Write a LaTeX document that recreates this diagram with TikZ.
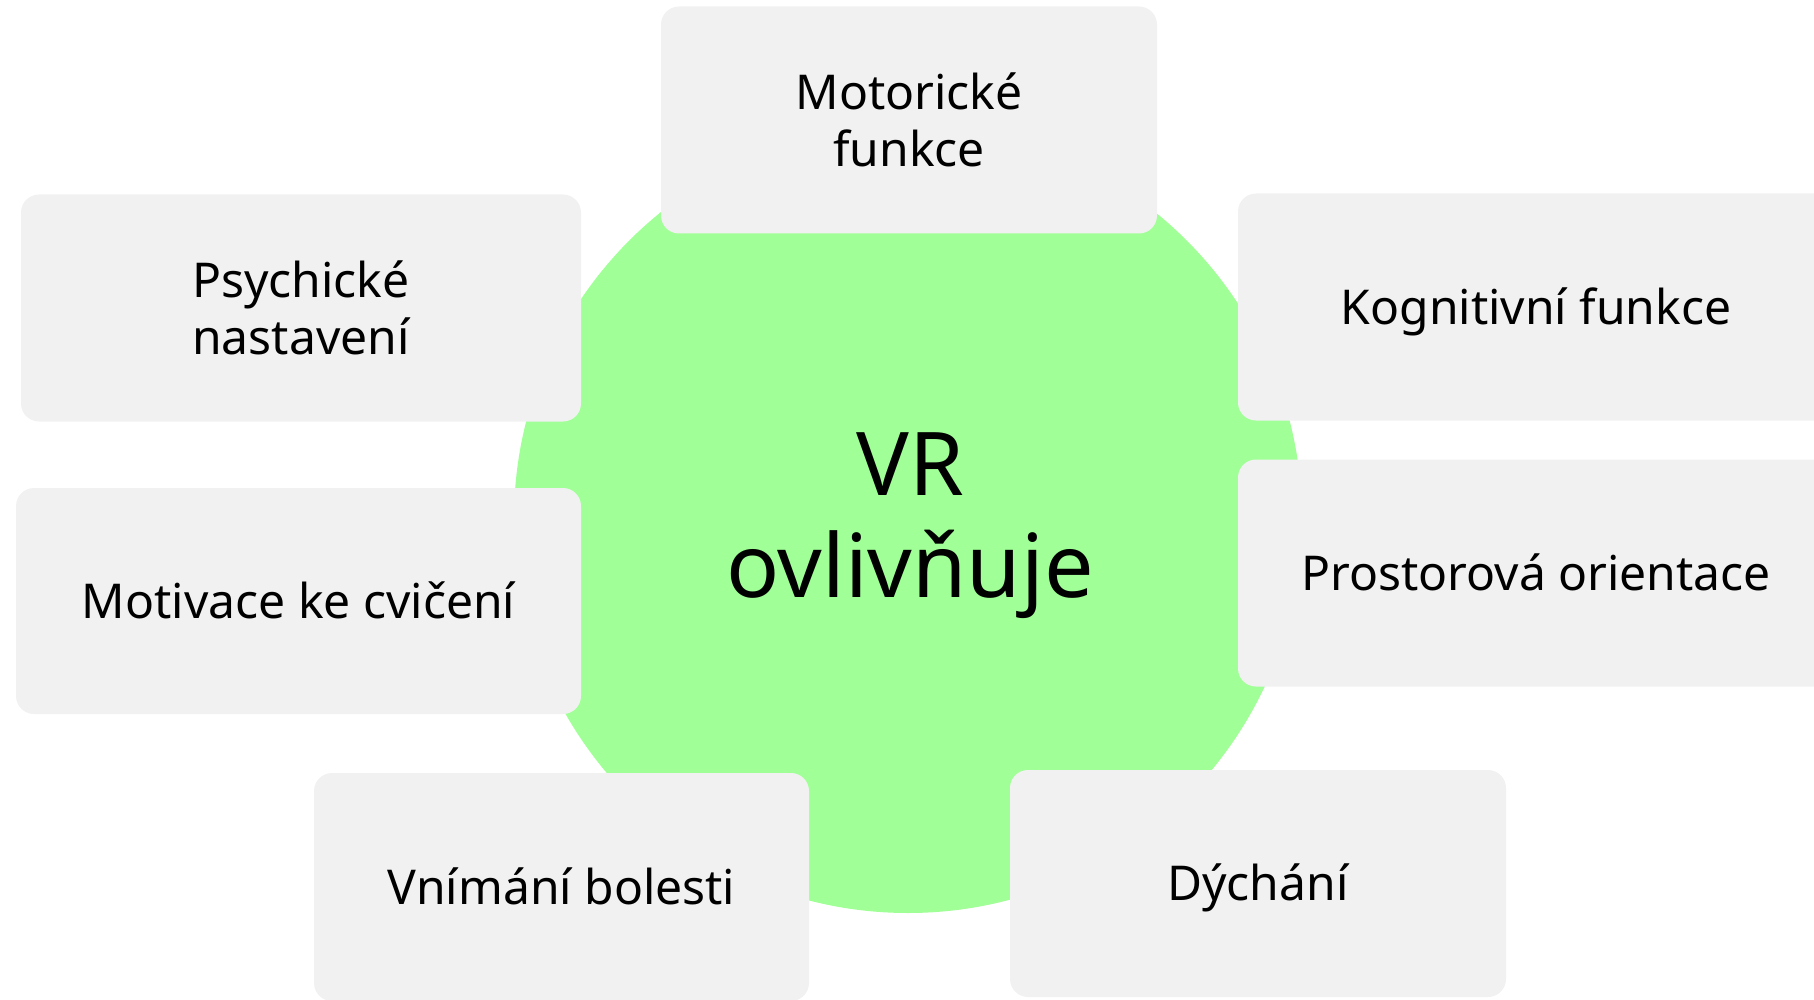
\documentclass[tikz,border=0pt]{standalone}
\usepackage{fontspec}
\setmainfont{Noto Sans}
\definecolor{vrgreen}{HTML}{A0FF96}
\definecolor{cardgray}{HTML}{F1F1F1}
\begin{document}
\begin{tikzpicture}[x=1pt,y=-1pt,
  card/.style={rectangle, fill=cardgray, rounded corners=18pt, inner sep=0pt,
    align=center, font=\fontsize{48}{57}\selectfont},
  oneline/.style={text height=34pt, text depth=0pt},
  hub/.style={circle, fill=vrgreen, inner sep=0pt, minimum size=788pt},
  hubtext/.style={align=center, inner sep=0pt, font=\fontsize{88}{102}\selectfont}]
\useasboundingbox (0,0) rectangle (1814,1000);
\clip (0,0) rectangle (1814,1000);
% central circle
\node[hub] (vr) at (908,519) {};
\node[hubtext] (vrlabel) at (910,526) {VR\\ovlivňuje};
% surrounding cards
\node[card, minimum width=496pt, minimum height=227pt] (motor) at (909,120) {Motorické\\funkce};
\node[card, minimum width=560pt, minimum height=227pt] (psych) at (301,308) {Psychické\\nastavení};
\node[card, oneline, minimum width=596pt, minimum height=227pt] (kogn) at (1536,307) {Kognitivní funkce};
\node[card, oneline, minimum width=565pt, minimum height=226pt] (motiv) at (298.5,601) {Motivace ke cvičení};
\node[card, oneline, minimum width=596pt, minimum height=227pt] (prost) at (1536,573) {Prostorová orientace};
\node[card, oneline, minimum width=495pt, minimum height=228pt] (bol) at (561.5,887) {Vnímání bolesti};
\node[card, oneline, minimum width=496pt, minimum height=227pt] (dech) at (1258,883.5) {Dýchání};
\end{tikzpicture}
\end{document}
